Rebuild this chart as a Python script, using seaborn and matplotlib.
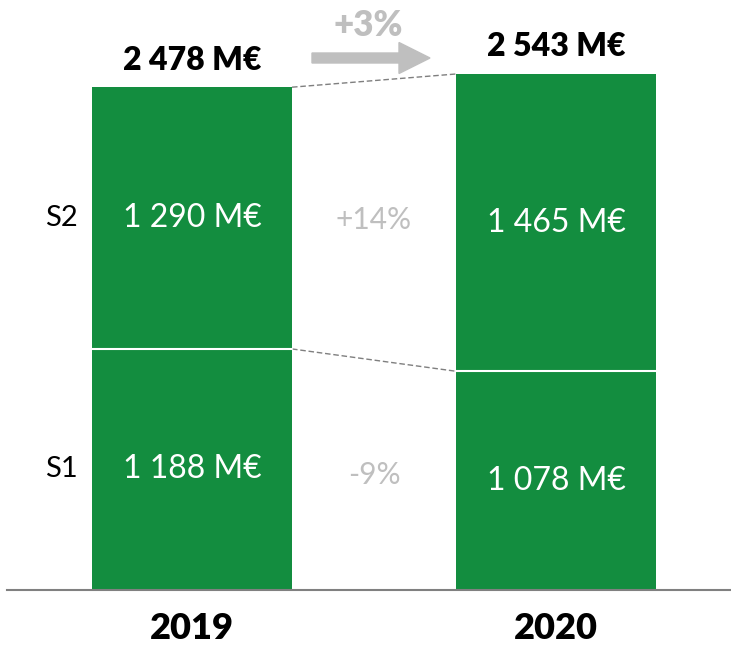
import matplotlib
matplotlib.use("Agg")
import matplotlib.pyplot as plt
import seaborn as sns
import pandas as pd
import numpy as np

years = ["2019", "2020"]
s1 = [1188, 1078]
s2 = [1290, 1465]
series_labels = ["S1", "S2"]
s1_change = "-9%"
s2_change = "+14%"
total_change = "+3%"

totals = [a + b for a, b in zip(s1, s2)]

def fmt(v):
    return f"{v:,}".replace(",", " ") + " M€"

sns.set_theme(style="white")
plt.rcParams["font.family"] = ["Lato", "DejaVu Sans"]

GREEN = "#138D3F"
GREY_TXT = "#BFBFBF"

fig = plt.figure(figsize=(7.31, 6.45), dpi=100)
W, H = 731, 645
base_px = 590
ax = fig.add_axes([7 / W, (H - base_px) / H, 724 / W, base_px / H])

df_tot = pd.DataFrame({"year": years, "value": totals})
df_s1 = pd.DataFrame({"year": years, "value": s1})
bw = 200 / 364
sns.barplot(data=df_tot, x="year", y="value", color=GREEN, saturation=1,
            width=bw, ax=ax, edgecolor="white", linewidth=0)
sns.barplot(data=df_s1, x="year", y="value", color=GREEN, saturation=1,
            width=bw, ax=ax, edgecolor="white", linewidth=0)
# white separator between segments
for i in range(len(years)):
    ax.plot([i - bw / 2, i + bw / 2], [s1[i], s1[i]], color="white", lw=1.5, zorder=5)

ymax = base_px * totals[1] / 516
ax.set_xlim((7 - 192) / 364, (731 - 192) / 364)
ax.set_ylim(0, ymax)

# dashed connectors
ax.plot([0 + bw / 2, 1 - bw / 2], [totals[0], totals[1]], color="#7F7F7F",
        lw=1, ls=(0, (4, 2)), zorder=4)
ax.plot([0 + bw / 2, 1 - bw / 2], [s1[0], s1[1]], color="#7F7F7F",
        lw=1, ls=(0, (4, 2)), zorder=4)

# values in segments
for i in range(len(years)):
    ax.text(i, s1[i] / 2, fmt(s1[i]), ha="center", va="center", color="white", fontsize=23)
    ax.text(i, s1[i] + s2[i] / 2, fmt(s2[i]), ha="center", va="center", color="white", fontsize=23)
    ax.annotate(fmt(totals[i]), (i, totals[i]), xytext=(0, 19.5), textcoords="offset points",
                ha="center", va="center", fontsize=23, fontweight="heavy", color="black")

# series labels on the left
ax.text((61 - 192) / 364, s1[0] / 2, series_labels[0], ha="center", va="center", fontsize=21, color="black")
ax.text((61 - 192) / 364, s1[0] + s2[0] / 2, series_labels[1], ha="center", va="center", fontsize=21, color="black")

# change labels
ax.text(0.5, (s1[0] + s1[1]) / 4, s1_change, ha="center", va="center", fontsize=21.5, color=GREY_TXT)
ax.text(0.5, (s1[0] + s2[0] / 2 + s1[1] + s2[1] / 2) / 2, s2_change, ha="center", va="center",
        fontsize=21.5, color=GREY_TXT)

# total change arrow + label (figure pixel coords)
def fx(px):
    return px / W
def fy(py):
    return (H - py) / H

fig.patches.append(matplotlib.patches.FancyArrow(
    fx(312), fy(58), fx(430) - fx(312), 0, width=10 / H, head_width=31 / H,
    head_length=31 / W, length_includes_head=True, color=GREY_TXT,
    transform=fig.transFigure, figure=fig))
fig.text(fx(368), fy(26), total_change, ha="center", va="center", fontsize=25,
         fontweight="heavy", color=GREY_TXT)

# axes styling
for side in ["top", "right", "left"]:
    ax.spines[side].set_visible(False)
ax.spines["bottom"].set_color("#808080")
ax.spines["bottom"].set_linewidth(1.5)
ax.set_yticks([])
ax.set_xlabel("")
ax.set_ylabel("")
ax.tick_params(axis="x", length=0, pad=16)
for lbl in ax.get_xticklabels():
    lbl.set_fontsize(26)
    lbl.set_fontweight("heavy")
    lbl.set_color("black")

fig.savefig("out.png", dpi=100, facecolor="white")
